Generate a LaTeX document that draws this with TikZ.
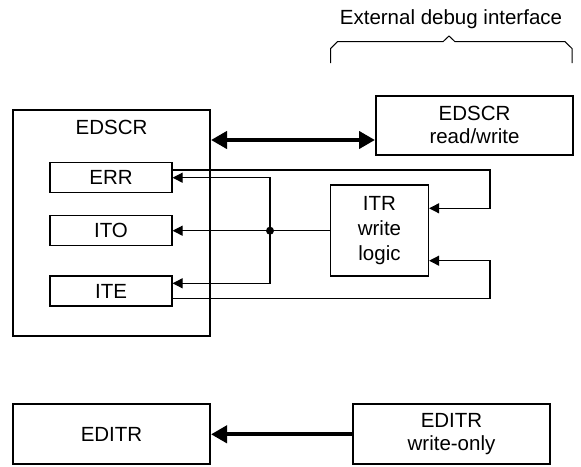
\documentclass[tikz,border=0pt]{standalone}
\usepackage{fontspec}
\setmainfont{Liberation Sans}
\usetikzlibrary{arrows.meta}
\begin{document}
\begin{tikzpicture}[x=1pt,y=-1pt,
  font=\fontsize{20.5}{23}\selectfont,
  bigbox/.style={draw, line width=2pt, inner sep=0pt},
  smallbox/.style={draw, line width=1.2pt, inner sep=0pt, minimum width=122pt, minimum height=30pt},
  conn/.style={line width=1.2pt},
  thinarrow/.style={conn, -{Triangle[length=10pt,width=10pt]}},
  fatarrow/.style={line width=4pt, -{Triangle[length=16pt,width=17pt]}},
  fatdouble/.style={line width=4pt, {Triangle[length=16pt,width=17pt]}-{Triangle[length=16pt,width=17pt]}}]
\useasboundingbox (0,0) rectangle (581,466);
% top label and brace
\node (ext) at (451,19) {External debug interface};
\draw[line width=1pt] (330.7,63) -- (330.7,48.5) -- (337.5,41.7) -- (443,41.7) -- (449,36) -- (455,41.7) -- (565,41.7) -- (572,48.5) -- (572,63);
% boxes
\node[bigbox, minimum width=197pt, minimum height=226pt] (big) at (111.5,223) {};
\node (biglbl) at (111.5,127.5) {EDSCR};
\node[bigbox, minimum width=197pt, minimum height=59pt, align=center] (rw) at (474.5,125) {EDSCR\\read/write};
\node[smallbox] (err) at (111,177.7) {ERR};
\node[smallbox] (ito) at (111,230.7) {ITO};
\node[smallbox] (ite) at (111,291) {ITE};
\node[smallbox, minimum width=98pt, minimum height=91pt, align=center, font=\fontsize{20.5}{25}\selectfont] (itr) at (379.5,230.5) {ITR\\write\\logic};
\node[bigbox, minimum width=197pt, minimum height=60pt] (editr) at (111.5,434.3) {EDITR};
\node[bigbox, minimum width=197pt, minimum height=60pt, align=center] (wo) at (451.5,434.3) {EDITR\\write-only};
\coordinate (dot) at (270,230.7);
\coordinate (rloop) at (490,0);
% connectors
\draw[fatdouble] (big.east |- 0,140) -- (rw.west |- 0,140);
\draw[conn] (itr.west |- dot) -- (dot);
\fill (dot) circle (4pt);
\draw[thinarrow] (dot) -- (ito.east);
\draw[thinarrow] (dot) |- (err.east);
\draw[thinarrow] (dot) |- (ite.east |- 0,283.3);
\draw[thinarrow] (err.east |- 0,170) -| (rloop |- 0,208.3) -- (itr.east |- 0,208.3);
\draw[thinarrow] (ite.east |- 0,298.3) -| (rloop |- 0,260.7) -- (itr.east |- 0,260.7);
\draw[fatarrow] (wo.west) -- (editr.east);
\end{tikzpicture}
\end{document}
